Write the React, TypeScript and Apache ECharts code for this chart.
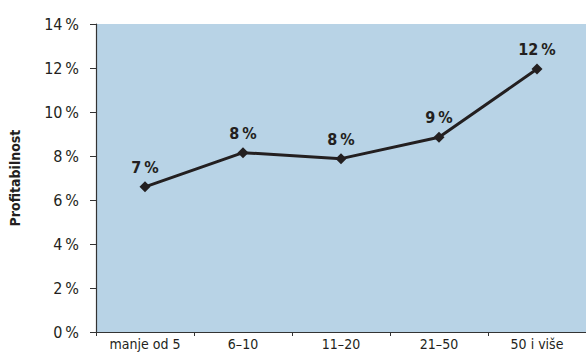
import React, { useEffect, useRef } from "react";
import * as echarts from "echarts";

const categories = ["manje od 5", "6–10", "11–20", "21–50", "50 i više"];
const values = [6.6, 8.15, 7.88, 8.85, 11.95];
const labels = ["7\u2009%", "8\u2009%", "8\u2009%", "9\u2009%", "12\u2009%"];
const yTicks = [0, 2, 4, 6, 8, 10, 12, 14];

const FONT = "'DejaVu Sans Condensed', 'Liberation Sans Narrow', 'Arial Narrow', sans-serif";

export default function App() {
  const ref = useRef<HTMLDivElement>(null);
  useEffect(() => {
    document.body.style.margin = "0";
    const chart = echarts.init(ref.current!, null, { renderer: "svg" });
    chart.setOption({
      animation: false,
      grid: {
        left: 94,
        top: 24,
        width: 497,
        height: 308,
        show: true,
        backgroundColor: "#b8d3e6",
        borderWidth: 0,
      },
      xAxis: {
        type: "category",
        data: categories,
        boundaryGap: true,
        axisLine: { lineStyle: { color: "#333", width: 1.2 } },
        axisTick: { show: true, length: 4, inside: false, lineStyle: { color: "#333" } },
        axisLabel: { color: "#231f20", fontFamily: FONT, fontSize: 14, margin: 5 },
      },
      yAxis: {
        type: "value",
        min: 0,
        max: 14,
        interval: 2,
        name: "Profitabilnost",
        nameLocation: "middle",
        nameGap: 74,
        nameTextStyle: { color: "#231f20", fontFamily: FONT, fontSize: 14, fontWeight: "bold" },
        axisLine: { show: true, lineStyle: { color: "#333", width: 1.2 } },
        axisTick: { show: true, length: 6, lineStyle: { color: "#333" } },
        splitLine: { show: false },
        axisLabel: {
          color: "#231f20",
          fontFamily: FONT,
          fontSize: 16,
          margin: 17,
          formatter: (v: number) => (yTicks.includes(v) ? `${v}\u2009%` : ""),
        },
      },
      series: [
        {
          type: "line",
          data: values,
          symbol: "diamond",
          symbolSize: 11,
          lineStyle: { color: "#231f20", width: 3 },
          itemStyle: { color: "#231f20" },
          label: {
            show: true,
            position: "top",
            distance: 6,
            color: "#231f20",
            fontFamily: FONT,
            fontSize: 16,
            fontWeight: "bold",
            formatter: (p: any) => labels[p.dataIndex],
          },
        },
      ],
    });
    return () => chart.dispose();
  }, []);
  return <div ref={ref} style={{ width: 586, height: 358 }} />;
}
